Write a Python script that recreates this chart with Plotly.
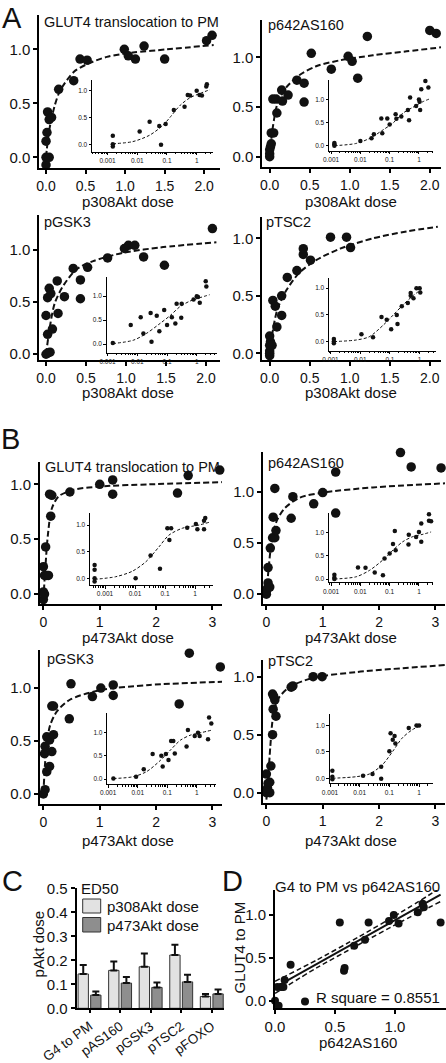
import plotly.graph_objects as go

W, H = 446, 1063

# ---------------- Panel A : response vs p308Akt dose ----------------
A_glut4_x = [0, 0, 0, 0.012, 0.02, 0.04, 0.04, 0.07, 0.16, 0.35, 0.43, 0.52, 0.99, 1.04, 1.13, 1.24, 1.5, 2.03, 2.1]
A_glut4_y = [-0.07, 0.0, 0.15, 0.23, 0.42, 0.35, 0.0, 0.37, 0.63, 0.71, 0.91, 0.9, 1.0, 0.94, 0.91, 1.03, 0.91, 1.08, 1.13]
A_glut4_fit_x = [0, 0.02, 0.05, 0.11, 0.18, 0.35, 0.51, 0.77, 1.1, 1.53, 2.12]
A_glut4_fit_y = [0, 0.14, 0.29, 0.48, 0.62, 0.79, 0.86, 0.93, 0.97, 1.0, 1.04]
A_glut4_log_x = [0.0015, 0.0015, 0.0015, 0.012, 0.026, 0.055, 0.063, 0.09, 0.17, 0.39, 0.5, 0.6, 1.0, 1.25, 1.5, 2.1, 2.2]
A_glut4_log_y = [0.16, 0.0, -0.04, 0.24, 0.42, 0.34, -0.01, 0.38, 0.64, 0.70, 0.92, 0.91, 1.0, 0.92, 0.91, 1.08, 1.12]
A_glut4_logfit_x = [0.0015, 0.007, 0.026, 0.075, 0.125, 0.28, 0.6, 1.3, 2.8]
A_glut4_logfit_y = [0.01, 0.05, 0.17, 0.36, 0.5, 0.73, 0.87, 0.95, 1.02]

A_as160_x = [0, 0, 0, 0.01, 0.02, 0.02, 0.05, 0.04, 0.08, 0.09, 0.15, 0.16, 0.23, 0.34, 0.43, 0.43, 0.52, 0.77, 0.98, 1.03, 1.1, 1.22, 1.48, 2.0, 2.08]
A_as160_y = [0.0, 0.03, 0.07, 0.1, 0.13, 0.24, 0.24, 0.58, 0.58, 0.44, 0.67, 0.56, 0.62, 0.77, 0.74, 0.55, 1.04, 0.88, 1.01, 0.96, 0.79, 1.21, 1.4, 1.27, 1.24]
A_as160_fit_x = [0, 0.04, 0.1, 0.21, 0.37, 0.58, 0.88, 1.29, 1.71, 2.14]
A_as160_fit_y = [0, 0.3, 0.54, 0.7, 0.82, 0.91, 0.97, 1.02, 1.06, 1.1]
A_as160_log_x = [0.0013, 0.0013, 0.0013, 0.01, 0.024, 0.029, 0.052, 0.056, 0.083, 0.1, 0.16, 0.17, 0.25, 0.42, 0.46, 0.5, 0.8, 1.0, 1.05, 1.1, 1.2, 1.66, 2.1]
A_as160_log_y = [0.06, 0.03, 0.0, 0.1, 0.16, 0.25, 0.59, 0.27, 0.59, 0.46, 0.68, 0.58, 0.63, 0.77, 0.55, 1.04, 0.86, 1.0, 0.95, 0.77, 1.22, 1.4, 1.26]
A_as160_logfit_x = [0.0013, 0.0073, 0.021, 0.059, 0.13, 0.28, 0.62, 1.35, 2.5]
A_as160_logfit_y = [0.0, 0.05, 0.16, 0.34, 0.49, 0.7, 0.83, 0.95, 1.02]

A_gsk3_x = [0, 0.02, 0.05, 0.0, 0.02, 0.02, 0.04, 0.06, 0.08, 0.14, 0.15, 0.23, 0.34, 0.43, 0.43, 0.52, 0.77, 0.98, 1.03, 1.11, 1.22, 1.48, 2.01, 2.08]
A_gsk3_y = [0.0, 0.01, 0.02, 0.37, 0.19, 0.54, 0.63, 0.58, 0.24, 0.7, 0.39, 0.55, 0.82, 0.71, 0.53, 0.83, 0.92, 1.01, 1.04, 1.04, 0.93, 0.85, 1.34, 1.2]
A_gsk3_fit_x = [0, 0.05, 0.11, 0.22, 0.38, 0.59, 0.97, 1.43, 2.13]
A_gsk3_fit_y = [0, 0.27, 0.49, 0.66, 0.81, 0.89, 0.97, 1.02, 1.07]
A_gsk3_log_x = [0.0015, 0.006, 0.013, 0.016, 0.028, 0.03, 0.045, 0.055, 0.08, 0.1, 0.145, 0.21, 0.31, 0.19, 0.3, 0.78, 1.0, 1.1, 1.26, 2.0, 2.1]
A_gsk3_log_y = [0.02, 0.4, 0.56, 0.22, 0.65, 0.05, 0.59, 0.27, 0.71, 0.4, 0.56, 0.84, 0.84, 0.43, 0.55, 0.93, 1.0, 0.98, 0.86, 1.31, 1.2]
A_gsk3_logfit_x = [0.0015, 0.0073, 0.02, 0.058, 0.13, 0.27, 0.6, 1.3, 2.7]
A_gsk3_logfit_y = [0.01, 0.08, 0.22, 0.43, 0.6, 0.78, 0.9, 0.97, 1.03]

A_tsc2_x = [0, 0, 0, 0, 0.01, 0.0, 0.03, 0.04, 0.07, 0.09, 0.15, 0.15, 0.22, 0.34, 0.42, 0.42, 0.51, 0.76, 0.96, 1.01]
A_tsc2_y = [-0.02, 0.0, 0.02, 0.07, 0.1, 0.15, 0.07, 0.46, 0.41, 0.23, 0.5, 0.33, 0.66, 0.72, 0.86, 0.91, 0.81, 1.01, 1.01, 0.92]
A_tsc2_fit_x = [0, 0.04, 0.1, 0.21, 0.37, 0.58, 0.88, 1.29, 1.71, 2.1]
A_tsc2_fit_y = [0, 0.2, 0.39, 0.55, 0.7, 0.81, 0.91, 1.0, 1.06, 1.1]
A_tsc2_log_x = [0.0013, 0.0013, 0.0013, 0.011, 0.027, 0.052, 0.078, 0.11, 0.17, 0.18, 0.25, 0.4, 0.5, 0.5, 0.62, 0.78, 1.0, 1.05]
A_tsc2_log_y = [0.05, 0.0, -0.03, 0.14, 0.08, 0.46, 0.41, 0.23, 0.5, 0.33, 0.66, 0.72, 0.91, 0.86, 0.81, 1.0, 1.0, 0.92]
A_tsc2_logfit_x = [0.0013, 0.0073, 0.02, 0.06, 0.13, 0.28, 0.6, 1.1]
A_tsc2_logfit_y = [0.0, 0.03, 0.09, 0.31, 0.5, 0.69, 0.86, 0.97]

# ---------------- Panel B : response vs p473Akt dose ----------------
B_glut4_x = [0, 0, 0.02, 0, 0.02, 0.06, 0.09, 0.04, 0.13, 0.11, 0.15, 0.47, 1.0, 1.23, 1.23, 2.38, 2.57, 3.13]
B_glut4_y = [-0.05, 0.02, 0.0, 0.25, 0.17, 0.17, 0.17, 0.43, 0.71, 0.91, 0.9, 0.93, 1.0, 1.04, 0.91, 0.92, 1.08, 1.13]
B_glut4_fit_x = [0, 0.03, 0.08, 0.15, 0.27, 0.53, 1.0, 1.89, 3.17]
B_glut4_fit_y = [-0.05, 0.2, 0.54, 0.78, 0.89, 0.95, 0.98, 1.0, 1.02]
B_glut4_log_x = [0.00045, 0.00045, 0.00045, 0.00045, 0.0105, 0.033, 0.068, 0.12, 0.16, 0.14, 0.55, 1.07, 1.2, 2.0, 2.2, 2.0]
B_glut4_log_y = [0.16, 0.25, 0.0, -0.06, 0.0, 0.43, 0.18, 0.94, 0.94, 0.72, 0.95, 1.02, 0.92, 0.92, 1.13, 1.08]
B_glut4_logfit_x = [0.00045, 0.0023, 0.008, 0.023, 0.063, 0.135, 0.38, 1.37, 2.9]
B_glut4_logfit_y = [-0.02, 0.03, 0.13, 0.31, 0.59, 0.81, 0.94, 1.0, 1.05]

B_as160_x = [0, 0, 0.02, 0.03, 0.06, 0.03, 0.07, 0.11, 0.15, 0.12, 0.17, 0.15, 0.47, 0.44, 0.84, 1.0, 1.23, 1.23, 2.38, 2.57, 3.1]
B_as160_y = [0.0, 0.03, 0.06, 0.11, 0.07, 0.26, 0.45, 0.55, 0.55, 0.75, 0.62, 1.03, 0.95, 0.74, 0.88, 0.99, 1.19, 0.79, 1.38, 1.24, 1.23]
B_as160_fit_x = [0, 0.04, 0.09, 0.18, 0.33, 0.59, 1.0, 1.89, 3.17]
B_as160_fit_y = [0, 0.25, 0.5, 0.71, 0.84, 0.94, 0.99, 1.04, 1.08]
B_as160_log_x = [0.0013, 0.0013, 0.0013, 0.0083, 0.015, 0.031, 0.059, 0.067, 0.1, 0.13, 0.15, 0.16, 0.44, 0.45, 0.8, 1.0, 1.2, 1.2, 2.2, 2.2, 2.6]
B_as160_log_y = [0.09, 0.03, 0.0, 0.25, 0.24, 0.14, 0.08, 0.44, 0.55, 0.75, 1.03, 0.62, 0.74, 0.95, 0.9, 1.01, 0.8, 1.19, 1.39, 1.25, 1.24]
B_as160_logfit_x = [0.0013, 0.0073, 0.021, 0.059, 0.13, 0.28, 0.62, 1.37, 2.6]
B_as160_logfit_y = [0.0, 0.05, 0.19, 0.41, 0.62, 0.8, 0.91, 0.96, 1.01]

B_gsk3_x = [0, 0.03, 0.02, 0.03, 0.06, 0.11, 0.06, 0.11, 0.15, 0.18, 0.15, 0.18, 0.49, 0.46, 0.87, 1.02, 1.24, 1.24, 2.41, 2.59, 3.14]
B_gsk3_y = [0.0, 0.04, 0.38, 0.45, 0.21, 0.26, 0.54, 0.51, 0.4, 0.56, 0.83, 0.83, 1.04, 0.71, 0.92, 1.0, 1.03, 0.93, 0.85, 1.33, 1.2]
B_gsk3_fit_x = [0, 0.03, 0.07, 0.12, 0.24, 0.47, 1.0, 1.89, 3.17]
B_gsk3_fit_y = [0, 0.29, 0.51, 0.65, 0.78, 0.89, 0.98, 1.03, 1.06]
B_gsk3_log_x = [0.0015, 0.0088, 0.016, 0.032, 0.063, 0.07, 0.09, 0.11, 0.135, 0.16, 0.18, 0.45, 0.5, 0.85, 1.1, 1.25, 2.4, 2.6, 3.1]
B_gsk3_log_y = [0.01, 0.05, 0.21, 0.54, 0.5, 0.27, 0.54, 0.41, 0.82, 0.82, 0.55, 0.7, 1.06, 0.93, 1.0, 0.93, 0.86, 1.33, 1.2]
B_gsk3_logfit_x = [0.0015, 0.0071, 0.02, 0.058, 0.13, 0.28, 0.62, 1.36, 3.4]
B_gsk3_logfit_y = [0.01, 0.05, 0.16, 0.4, 0.63, 0.84, 0.95, 1.0, 1.06]

B_tsc2_x = [0, 0.06, 0.02, 0.03, 0, 0.06, 0.08, 0.11, 0.12, 0.15, 0.11, 0.13, 0.17, 0.47, 0.44, 0.83, 0.99]
B_tsc2_y = [0.0, 0.0, 0.04, 0.08, 0.16, 0.09, 0.23, 0.5, 0.72, 0.8, 0.85, 0.83, 0.66, 0.92, 0.91, 1.0, 1.0]
B_tsc2_fit_x = [0, 0.03, 0.07, 0.12, 0.21, 0.41, 0.83, 1.6, 3.17]
B_tsc2_fit_y = [-0.06, 0.11, 0.4, 0.66, 0.81, 0.91, 0.99, 1.04, 1.1]
B_tsc2_log_x = [0.0012, 0.0012, 0.0012, 0.013, 0.027, 0.053, 0.053, 0.1, 0.11, 0.13, 0.15, 0.16, 0.45, 0.82, 1.0]
B_tsc2_log_y = [0.14, 0.03, -0.02, 0.05, 0.08, 0.22, -0.01, 0.51, 0.85, 0.73, 0.8, 0.66, 0.95, 1.0, 1.0]
B_tsc2_logfit_x = [0.0012, 0.0077, 0.021, 0.057, 0.13, 0.27, 0.6, 1.1]
B_tsc2_logfit_y = [0.0, 0.03, 0.08, 0.25, 0.51, 0.76, 0.92, 0.99]

# ---------------- Panel C : ED50 bars ----------------
C_categories = ["G4 to PM", "pAS160", "pGSK3", "pTSC2", "pFOXO"]
C_p308_mean = [0.143, 0.158, 0.173, 0.222, 0.049]
C_p308_err = [0.037, 0.037, 0.055, 0.043, 0.011]
C_p473_mean = [0.055, 0.105, 0.087, 0.11, 0.06]
C_p473_err = [0.015, 0.025, 0.02, 0.03, 0.018]

# ---------------- Panel D : GLUT4 vs p642AS160 ----------------
D_x = [0, 0.03, 0.02, 0.05, 0.07, 0.08, 0.13, 0.25, 0.54, 0.575, 0.58, 0.66, 0.75, 0.78, 0.95, 0.99, 1.03, 1.19, 1.23, 1.24, 1.38]
D_y = [0, -0.06, 0.16, 0.16, 0.16, 0.24, 0.42, -0.01, 0.91, 0.35, 0.38, 0.64, 0.71, 0.91, 0.93, 1.0, 0.9, 1.03, 1.13, 1.09, 0.91]
D_line_x = [0, 0.35, 0.7, 1.05, 1.38]
D_line_y = [0.155, 0.43, 0.703, 0.977, 1.235]
D_upper_y = [0.225, 0.475, 0.745, 1.03, 1.315]
D_lower_y = [0.085, 0.385, 0.655, 0.92, 1.155]

FONT = "Arial, Liberation Sans, sans-serif"
INK = "#111111"


def px(x):
    return x / W


def py(y):
    return 1 - y / H


fig = go.Figure()
layout = dict(
    template="none",
    width=W, height=H, autosize=False,
    margin=dict(l=0, r=0, t=0, b=0, pad=0, autoexpand=False),
    paper_bgcolor="white", plot_bgcolor="rgba(0,0,0,0)",
    showlegend=False,
    font=dict(family=FONT, color=INK),
    barmode="group", bargap=0.176, bargroupgap=0.18,
)
annotations = []
shapes = []


def axname(i, a):
    return f"{a}axis" if i == 1 else f"{a}axis{i}"


def ref(i, a):
    return a if i == 1 else f"{a}{i}"


def base_axis(lw, tl, tw, fs):
    return dict(showline=True, linecolor="black", linewidth=lw, ticks="outside",
                ticklen=tl, tickwidth=tw, tickcolor="black", showgrid=False,
                zeroline=False, automargin=False, layer="above traces",
                tickfont=dict(size=fs, color=INK, family=FONT))


main_panels = [
    (A_glut4_x, A_glut4_y, A_glut4_fit_x, A_glut4_fit_y, (39.3, 220, 15, 167.7), [-0.085, 2.2], [-0.096, 1.318], "A", "GLUT4 translocation to PM", (41.7, 21.7)),
    (A_as160_x, A_as160_y, A_as160_fit_x, A_as160_fit_y, (262.3, 441, 20, 166.7), [-0.092, 2.14], [-0.1, 1.375], "A", "p642AS160", (266.3, 25)),
    (A_gsk3_x, A_gsk3_y, A_gsk3_fit_x, A_gsk3_fit_y, (39.3, 220, 215, 360), [-0.084, 2.175], [-0.055, 1.33], "A", "pGSK3", (41.7, 221.7)),
    (A_tsc2_x, A_tsc2_y, A_tsc2_fit_x, A_tsc2_fit_y, (262.3, 441, 216.7, 360), [-0.092, 2.14], [-0.058, 1.188], "A", "pTSC2", (263.7, 221.7)),
    (B_glut4_x, B_glut4_y, B_glut4_fit_x, B_glut4_fit_y, (40, 222, 461.7, 604), [-0.06, 3.17], [-0.09, 1.206], "B", "GLUT4 translocation to PM", (43.3, 466.7)),
    (B_as160_x, B_as160_y, B_as160_fit_x, B_as160_fit_y, (263, 445, 451.7, 604), [-0.06, 3.17], [-0.095, 1.388], "B", "p642AS160", (266.3, 463.3)),
    (B_gsk3_x, B_gsk3_y, B_gsk3_fit_x, B_gsk3_fit_y, (40, 222, 650, 804), [-0.06, 3.17], [-0.095, 1.36], "B", "pGSK3", (45, 659.3)),
    (B_tsc2_x, B_tsc2_y, B_tsc2_fit_x, B_tsc2_fit_y, (263, 445, 660, 803), [-0.06, 3.17], [-0.089, 1.144], "B", "pTSC2", (266.3, 660.7)),
]

inset_panels = [
    (A_glut4_log_x, A_glut4_log_y, A_glut4_logfit_x, A_glut4_logfit_y, (92, 213, 80, 151.7), [-3.525, 0.549], [-0.138, 1.2]),
    (A_as160_log_x, A_as160_log_y, A_as160_logfit_x, A_as160_logfit_y, (329, 433, 80, 150.7), [-3.07, 0.48], [-0.108, 1.42]),
    (A_gsk3_log_x, A_gsk3_log_y, A_gsk3_logfit_x, A_gsk3_logfit_y, (106.7, 216.7, 277, 352.7), [-3.03, 0.67], [-0.18, 1.4]),
    (A_tsc2_log_x, A_tsc2_log_y, A_tsc2_logfit_x, A_tsc2_logfit_y, (329, 436, 278, 350.7), [-3.05, 0.55], [-0.17, 1.19]),
    (B_glut4_log_x, B_glut4_log_y, B_glut4_logfit_x, B_glut4_logfit_y, (90, 213, 513.3, 585), [-3.5, 0.6], [-0.126, 1.22]),
    (B_as160_log_x, B_as160_log_y, B_as160_logfit_x, B_as160_logfit_y, (329, 433, 513.3, 582.3), [-3.07, 0.48], [-0.07, 1.41]),
    (B_gsk3_log_x, B_gsk3_log_y, B_gsk3_logfit_x, B_gsk3_logfit_y, (107.3, 216, 713.3, 784), [-3.03, 0.65], [-0.108, 1.42]),
    (B_tsc2_log_x, B_tsc2_log_y, B_tsc2_logfit_x, B_tsc2_logfit_y, (329.7, 433, 714.3, 783.3), [-3.01, 0.47], [-0.095, 1.21]),
]

idx = 1
for xs, ys, fx, fy, (xl, xr, yt, yb), xr_, yr_, grp, title, (tx, ty) in main_panels:
    xa = base_axis(2, 4, 2, 14)
    xa.update(domain=[px(xl), px(xr)], range=xr_, anchor=ref(idx, "y"))
    if grp == "A":
        xa.update(tickvals=[0, 0.5, 1.0, 1.5, 2.0], ticktext=["0.0", "0.5", "1.0", "1.5", "2.0"])
    else:
        xa.update(tickvals=[0, 1, 2, 3], ticktext=["0", "1", "2", "3"])
    ya = base_axis(2, 4, 2, 15)
    ya.update(domain=[py(yb), py(yt)], range=yr_, anchor=ref(idx, "x"),
              tickvals=[0, 0.5, 1.0], ticktext=["0.0", "0.5", "1.0"])
    layout[axname(idx, "x")] = xa
    layout[axname(idx, "y")] = ya
    fig.add_trace(go.Scatter(x=fx, y=fy, mode="lines", xaxis=ref(idx, "x"), yaxis=ref(idx, "y"),
                             line=dict(color=INK, width=2, dash="6px,3px", shape="spline", smoothing=0.8),
                             hoverinfo="skip"))
    fig.add_trace(go.Scatter(x=xs, y=ys, mode="markers", xaxis=ref(idx, "x"), yaxis=ref(idx, "y"),
                             marker=dict(color=INK, size=9.5, line=dict(width=0)), cliponaxis=False))
    annotations.append(dict(text=title, x=px(tx), y=py(ty), xref="paper", yref="paper",
                            xanchor="left", yanchor="middle", showarrow=False,
                            font=dict(size=14.5, color=INK, family=FONT)))
    idx += 1

minor_vals = [k * 10.0 ** e for e in range(-4, 1) for k in range(2, 10)]
for xs, ys, fx, fy, (xl, xr, yt, yb), xr_, yr_ in inset_panels:
    xa = base_axis(1, 2.5, 1, 6.5)
    xa.update(domain=[px(xl), px(xr)], range=xr_, type="log", anchor=ref(idx, "y"),
              tickvals=[0.001, 0.01, 0.1, 1], ticktext=["0.001", "0.01", "0.1", "1"],
              minor=dict(ticks="outside", ticklen=1.5, tickwidth=0.7, tickcolor="black",
                         tickvals=minor_vals, showgrid=False))
    ya = base_axis(1, 2.5, 1, 6.5)
    ya.update(domain=[py(yb), py(yt)], range=yr_, anchor=ref(idx, "x"),
              tickvals=[0, 0.5, 1.0], ticktext=["0.0", "0.5", "1.0"])
    layout[axname(idx, "x")] = xa
    layout[axname(idx, "y")] = ya
    fig.add_trace(go.Scatter(x=fx, y=fy, mode="lines", xaxis=ref(idx, "x"), yaxis=ref(idx, "y"),
                             line=dict(color=INK, width=1, dash="3px,2px", shape="spline", smoothing=0.8),
                             hoverinfo="skip"))
    fig.add_trace(go.Scatter(x=xs, y=ys, mode="markers", xaxis=ref(idx, "x"), yaxis=ref(idx, "y"),
                             marker=dict(color=INK, size=4.5, line=dict(width=0)), cliponaxis=False))
    idx += 1

# ---- axis titles for A/B ----
for txt, cx, cy in [("p308Akt dose", 128, 201.5), ("p308Akt dose", 351, 201),
                    ("p308Akt dose", 128, 392), ("p308Akt dose", 351, 392),
                    ("p473Akt dose", 128, 637), ("p473Akt dose", 351, 637),
                    ("p473Akt dose", 128, 840), ("p473Akt dose", 351, 840)]:
    annotations.append(dict(text=txt, x=px(cx), y=py(cy), xref="paper", yref="paper",
                            xanchor="center", yanchor="middle", showarrow=False,
                            font=dict(size=15, color=INK, family=FONT)))

# ---- Panel C ----
iC = idx
xa = base_axis(2, 3, 2, 13.5)
xa.update(domain=[px(76.7), px(224)], range=[-0.42, 4.4], type="category",
          anchor=ref(iC, "y"), tickangle=-36)
ya = base_axis(2, 4, 2, 15)
ya.update(domain=[py(1008.3), py(888.3)], range=[0, 0.5], anchor=ref(iC, "x"),
          tickvals=[0, 0.1, 0.2, 0.3, 0.4, 0.5], ticktext=["0.0", "0.1", "0.2", "0.3", "0.4", "0.5"])
layout[axname(iC, "x")] = xa
layout[axname(iC, "y")] = ya
for means, errs, col in [(C_p308_mean, C_p308_err, "#e2e2e2"), (C_p473_mean, C_p473_err, "#8e8e8e")]:
    fig.add_trace(go.Bar(x=C_categories, y=means, xaxis=ref(iC, "x"), yaxis=ref(iC, "y"),
                         marker=dict(color=col, line=dict(color="#333333", width=1)),
                         error_y=dict(type="data", array=errs, arrayminus=[0] * len(errs),
                                      symmetric=False, color=INK, thickness=2, width=3.5)))
idx += 1

# legend of C
shapes.append(dict(type="rect", xref="paper", yref="paper", x0=px(82.7), x1=px(100.7),
                   y0=py(913), y1=py(899), fillcolor="#e2e2e2", line=dict(color="#333333", width=1)))
shapes.append(dict(type="rect", xref="paper", yref="paper", x0=px(82.7), x1=px(100.7),
                   y0=py(932), y1=py(917.5), fillcolor="#8e8e8e", line=dict(color="#333333", width=1)))
for txt, lx, ly in [("ED50", 79, 888.5), ("p308Akt dose", 104.5, 906.5), ("p473Akt dose", 104.5, 925)]:
    annotations.append(dict(text=txt, x=px(lx), y=py(ly), xref="paper", yref="paper",
                            xanchor="left", yanchor="middle", showarrow=False,
                            font=dict(size=15, color=INK, family=FONT)))
annotations.append(dict(text="pAkt dose", x=px(37.5), y=py(944), xref="paper", yref="paper",
                        xanchor="center", yanchor="middle", textangle=-90, showarrow=False,
                        font=dict(size=15, color=INK, family=FONT)))

# ---- Panel D ----
iD = idx
xa = base_axis(2, 4, 2, 15)
xa.update(domain=[px(275), px(446)], range=[0, 1.425], anchor=ref(iD, "y"),
          tickvals=[0, 0.5, 1.0], ticktext=["0.0", "0.5", "1.0"])
ya = base_axis(2, 4, 2, 15)
ya.update(domain=[py(1008.3), py(890)], range=[-0.089, 1.29], anchor=ref(iD, "x"),
          tickvals=[0, 0.5, 1.0], ticktext=["0.0", "0.5", "1.0"])
layout[axname(iD, "x")] = xa
layout[axname(iD, "y")] = ya
fig.add_trace(go.Scatter(x=D_line_x, y=D_upper_y, mode="lines", xaxis=ref(iD, "x"), yaxis=ref(iD, "y"),
                         line=dict(color=INK, width=1.5, dash="5px,3px", shape="spline", smoothing=0.6)))
fig.add_trace(go.Scatter(x=D_line_x, y=D_lower_y, mode="lines", xaxis=ref(iD, "x"), yaxis=ref(iD, "y"),
                         line=dict(color=INK, width=1.5, dash="5px,3px", shape="spline", smoothing=0.6)))
fig.add_trace(go.Scatter(x=D_line_x, y=D_line_y, mode="lines", xaxis=ref(iD, "x"), yaxis=ref(iD, "y"),
                         line=dict(color=INK, width=2)))
fig.add_trace(go.Scatter(x=D_x, y=D_y, mode="markers", xaxis=ref(iD, "x"), yaxis=ref(iD, "y"),
                         marker=dict(color=INK, size=8, line=dict(width=0)), cliponaxis=False))
for txt, cx, cy, ang in [("G4 to PM vs p642AS160", 357.5, 886, 0), ("R square = 0.8551", 378, 997.5, 0),
                         ("p642AS160", 358, 1042.5, 0), ("GLUT4 to PM", 239, 947.5, -90)]:
    annotations.append(dict(text=txt, x=px(cx), y=py(cy), xref="paper", yref="paper",
                            xanchor="center", yanchor="middle", textangle=ang, showarrow=False,
                            font=dict(size=15, color=INK, family=FONT)))

# ---- panel letters ----
annotations.append(dict(text="A", x=px(12), y=1.0, xref="paper", yref="paper",
                        xanchor="center", yanchor="top", showarrow=False,
                        font=dict(size=29, color=INK, family=FONT)))
for L, cx, cy in [("B", 10.5, 439), ("C", 12.5, 880.5), ("D", 232.5, 880.5)]:
    annotations.append(dict(text=L, x=px(cx), y=py(cy), xref="paper", yref="paper",
                            xanchor="center", yanchor="middle", showarrow=False,
                            font=dict(size=29, color=INK, family=FONT)))

layout["annotations"] = annotations
layout["shapes"] = shapes
fig.update_layout(**layout)
fig.write_html("out.html", config={"displayModeBar": False},
               post_script="document.body.style.margin='0';document.body.style.overflow='hidden';")
